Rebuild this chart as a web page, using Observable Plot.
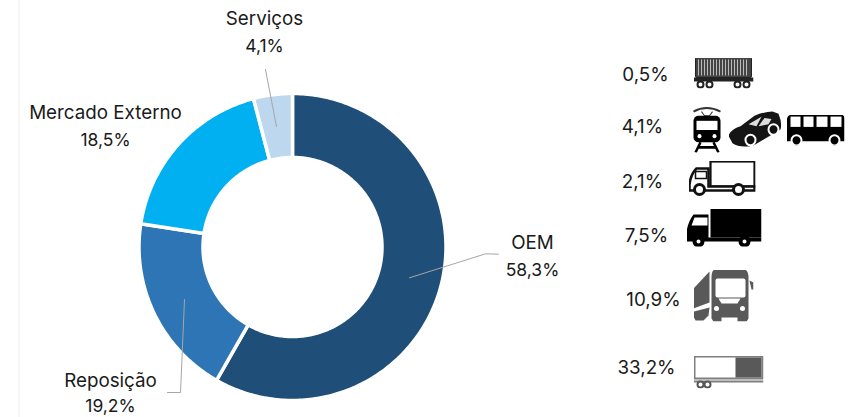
<!DOCTYPE html>
<html><head><meta charset="utf-8">
<script src="https://cdn.jsdelivr.net/npm/d3@7"></script>
<script src="https://cdn.jsdelivr.net/npm/@observablehq/plot@0.6"></script>
<style>html,body{margin:0;padding:0;background:#fff}svg{display:block}</style>
</head><body><div id="chart"></div>
<script>
const categories = ["OEM","Reposição","Mercado Externo","Serviços"];
const shares = [58.3,19.2,18.5,4.1];
const shareLabels = ["58,3%","19,2%","18,5%","4,1%"];
const colors = ["#1f4e79","#2e75b6","#00b0f0","#bdd7ee"];
const labelX = [532,110,105,264];
const labelY = [242,380,112,18];
const shareY = [269.5,405.5,140,46];
const oemShares = ["0,5%","4,1%","2,1%","7,5%","10,9%","33,2%"];
const oemX = [645,642,642,646,653,646];
const oemY = [74,126,181,235,299,367];

const cx = 292, cy = 246.5, R = 153.5, r = 89.5;
const pie = d3.pie().sort(null).value(d=>d)(shares);
const ring = [];
pie.forEach((p,i)=>{
  const n = Math.max(8, Math.ceil((p.endAngle-p.startAngle)*60));
  const pts=[];
  for(let k=0;k<=n;k++){const a=p.startAngle+(p.endAngle-p.startAngle)*k/n;pts.push([a,R]);}
  for(let k=n;k>=0;k--){const a=p.startAngle+(p.endAngle-p.startAngle)*k/n;pts.push([a,r]);}
  pts.push([p.startAngle,R]);
  pts.forEach(([a,rad])=>ring.push({cat:categories[i],x:cx+rad*Math.sin(a),y:cy-rad*Math.cos(a)}));
});

const leaders = [
  {k:"OEM",pts:[[409,277.3],[485,253.3],[498,253.7]]},
  {k:"Rep",pts:[[184,299],[180,392],[167,392]]},
  {k:"Ser",pts:[[265,69],[276,126]]}
].flatMap(l=>l.pts.map(([x,y])=>({k:l.k,x,y})));

const svgUri = (w,h,body)=>"data:image/svg+xml;charset=utf-8,"+encodeURIComponent(`<svg xmlns="http://www.w3.org/2000/svg" viewBox="0 0 ${w} ${h}">${body}</svg>`);
const wagon = svgUri(60,31,`<rect x="2" y="0" width="56" height="20" rx="1.5" fill="#444" stroke="#222"/><g stroke="#bbb" stroke-width="1">${d3.range(5,56,3).map(x=>`<line x1="${x}" x2="${x}" y1="2" y2="18"/>`).join("")}</g><rect x="0" y="20" width="60" height="4" fill="#222"/><g fill="#fff" stroke="#222" stroke-width="2"><circle cx="7" cy="27" r="3"/><circle cx="16" cy="27" r="3"/><circle cx="44" cy="27" r="3"/><circle cx="53" cy="27" r="3"/></g>`);
const train = svgUri(29,45,`<path d="M1 5Q14 -2 28 5" fill="none" stroke="#333" stroke-width="2"/><path d="M9 5L12 9H17L20 5" fill="none" stroke="#333"/><rect x="1" y="9" width="27" height="26" rx="5"/><rect x="4" y="14" width="21" height="9" fill="#fff"/><circle cx="7" cy="29" r="2" fill="#fff"/><circle cx="22" cy="29" r="2" fill="#fff"/><path d="M8 35L3 45M21 35L26 45M6 40H23" stroke="#000" stroke-width="2.5"/>`);
const car = svgUri(53,35,`<path d="M0 24Q2 18 12 15L26 5Q36 1 44 1L50 3Q54 12 52 18L25 33Q12 36 4 31Z" fill="#151515"/><path d="M20 13L33 6L28 15ZM30 15L36 7L43 8L40 13Z" fill="#ddd"/><circle cx="22" cy="28" r="5" fill="#111" stroke="#fff" stroke-width="2"/><circle cx="45" cy="18" r="5" fill="#111" stroke="#fff" stroke-width="2"/>`);
const bus = svgUri(58,30,`<path d="M6 0H54Q58 0 58 4V26H0V7Q0 0 6 0Z"/><g fill="#fff"><rect x="4" y="2" width="10" height="10"/><rect x="17" y="2" width="10" height="10"/><rect x="30" y="2" width="11" height="10"/><rect x="44" y="2" width="11" height="10"/></g><g fill="#000" stroke="#fff" stroke-width="2"><circle cx="10" cy="25" r="5"/><circle cx="48" cy="25" r="5"/></g>`);
const truckO = svgUri(67,36,`<rect x="22" y="1" width="44" height="25" fill="#fff" stroke="#111" stroke-width="2.2"/><path d="M20 8H8Q2 14 1 24V30H66V26H20Z" fill="#fff" stroke="#111" stroke-width="2.5"/><rect x="7" y="11" width="11" height="7" fill="#fff" stroke="#111" stroke-width="1.5"/><g fill="#fff" stroke="#111" stroke-width="3"><circle cx="11" cy="29" r="5"/><circle cx="50" cy="29" r="5"/></g>`);
const truckB = svgUri(75,38,`<rect x="24" y="0" width="51" height="29"/><path d="M22 6H7Q1 14 0 24V33H75V29H22Z"/><path d="M8 9H21V17H5Z" fill="#fff"/><g fill="#fff" stroke="#000" stroke-width="4"><circle cx="12" cy="33" r="4"/><circle cx="58" cy="33" r="4"/></g>`);
const cab = svgUri(60,52,`<g fill="#595959"><path d="M16 2V33L0 39V19L1 18Z"/><path d="M0 42L16 38L15 46L10 51H2L0 47Z"/><path d="M22 0H50Q55 0 55 8V49L53 52H44V48H28V52H20L18 49V8Q18 0 22 0Z"/><path d="M56 11L60 13V20L58 20Z"/></g><rect x="22" y="9" width="30" height="19" rx="2" fill="#fff"/><path d="M25 29H47L44 34H28Z" fill="#fff"/><circle cx="23" cy="39" r="2.5" fill="#fff"/><circle cx="49" cy="39" r="2.5" fill="#fff"/>`);
const trailer = svgUri(70,33,`<rect x="1" y="1" width="68" height="22" fill="#fff" stroke="#7f7f7f" stroke-width="2"/><rect x="42" y="2" width="26" height="20" fill="#595959"/><rect x="0" y="25" width="70" height="2" fill="#7f7f7f"/><g fill="#fff" stroke="#595959" stroke-width="2"><circle cx="7" cy="29" r="3"/><circle cx="14" cy="29" r="3"/></g>`);
const icons = [
 {src:wagon,x:693,y:57,w:60,h:31},{src:train,x:692,y:106,w:29,h:46},{src:car,x:728,y:110,w:53,h:37},
 {src:bus,x:786,y:114,w:58,h:31},{src:truckO,x:688,y:160,w:67,h:36},{src:truckB,x:686,y:208,w:75,h:38},
 {src:cab,x:693,y:269,w:60,h:52},{src:trailer,x:693,y:355,w:70,h:33}
];
const iconMark = (d)=>Plot.image([d],{x:d.x+d.w/2,y:d.y+d.h/2,src:"src",width:d.w,height:d.h,preserveAspectRatio:"none"});

const font = "Inter, 'Open Sans', sans-serif";
const txt = (text,x,y)=>({text,x,y});
const names = categories.map((c,i)=>txt(c,labelX[i],labelY[i]));
const values = shareLabels.map((t,i)=>txt(t,labelX[i],shareY[i]));
const oem = oemShares.map((t,i)=>txt(t,oemX[i],oemY[i]));

const chart = Plot.plot({
  width:861,height:417,margin:0,
  style:{background:"#fff",fontFamily:font},
  x:{domain:[0,861],range:[0,861],axis:null},
  y:{domain:[0,417],range:[0,417],axis:null},
  color:{domain:categories,range:colors},
  marks:[
    Plot.ruleX([18.5],{stroke:"#eeeeee",strokeWidth:1}),
    Plot.line(ring,{x:"x",y:"y",z:"cat",fill:"cat",stroke:"#fff",strokeWidth:3.5,curve:"linear"}),
    Plot.line(leaders,{x:"x",y:"y",z:"k",stroke:"#a6a6a6",strokeWidth:1,curve:"linear"}),
    Plot.text(names,{x:"x",y:"y",text:"text",fontSize:18.8,fill:"#1a1a1a",fontFamily:font}),
    Plot.text(values,{x:"x",y:"y",text:"text",fontSize:17.5,fill:"#1a1a1a",fontFamily:font}),
    Plot.text(oem,{x:"x",y:"y",text:"text",fontSize:18.8,fill:"#1a1a1a",fontFamily:font}),
    ...icons.map(iconMark)
  ]
});
document.getElementById("chart").append(chart);
</script></body></html>
